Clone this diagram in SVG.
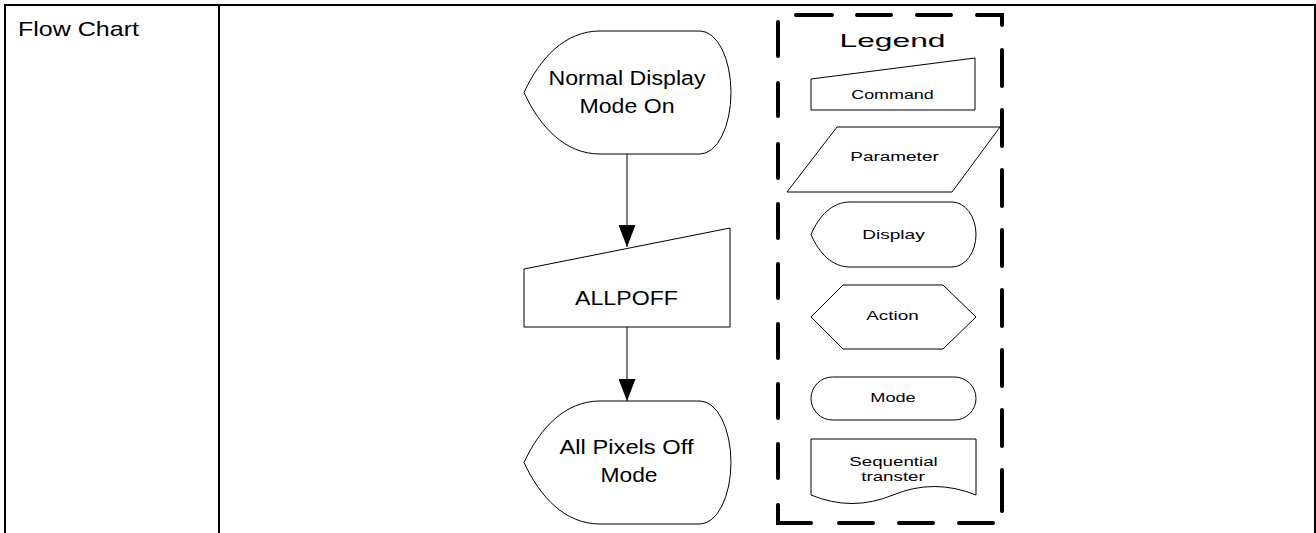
<svg xmlns="http://www.w3.org/2000/svg" width="1316" height="533" viewBox="0 0 1316 533">
<style>
.tbl{stroke:#000;stroke-width:2;fill:none}
.shape{fill:#fff;stroke:#000;stroke-width:1}
.conn{stroke:#000;stroke-width:1;fill:none}
.dash{stroke:#000;stroke-width:4;fill:none;stroke-linecap:round;stroke-linejoin:miter}
text{font-family:"Liberation Sans",Arial,sans-serif;fill:#000}
.main{font-size:20px;text-anchor:middle}
.leg{font-size:12.5px;text-anchor:middle}
</style>
<defs>
<marker id="arrow" markerUnits="userSpaceOnUse" markerWidth="22" markerHeight="17" refX="22" refY="8.5" orient="auto">
<path d="M0,0 L22,8.5 L0,17 Z" fill="#000"/>
</marker>
</defs>
<rect width="1316" height="533" fill="#fff"/>
<g id="table">
<path class="tbl" d="M4,5 H1316 M5,4 V533 M219,4 V533 M1315,4 V533"/>
<text x="18" y="36" font-size="21" textLength="121" lengthAdjust="spacingAndGlyphs">Flow Chart</text>
</g>
<g id="connectors">
<path class="conn" d="M627,154 V247" marker-end="url(#arrow)"/>
<path class="conn" d="M627,327 V401" marker-end="url(#arrow)"/>
</g>
<g id="node-normal-display">
<path class="shape" d="M524,92.5 C540,58 565,31 600,31 L700,31 A31,61.5 0 0 1 700,154 L600,154 C565,154 540,127 524,92.5 Z"/>
<text class="main" x="627" y="85" textLength="157" lengthAdjust="spacingAndGlyphs">Normal Display</text>
<text class="main" x="627" y="113" textLength="95" lengthAdjust="spacingAndGlyphs">Mode On</text>
</g>
<g id="node-allpoff">
<path class="shape" d="M524,269 L730,228 L730,327 L524,327 Z"/>
<text class="main" x="626.5" y="305" textLength="103" lengthAdjust="spacingAndGlyphs">ALLPOFF</text>
</g>
<g id="node-all-pixels-off">
<path class="shape" d="M524,462.5 C540,428 565,401 600,401 L700,401 A31,61.5 0 0 1 700,524 L600,524 C565,524 540,497 524,462.5 Z"/>
<text class="main" x="626.5" y="454" textLength="134" lengthAdjust="spacingAndGlyphs">All Pixels Off</text>
<text class="main" x="629" y="482" textLength="57" lengthAdjust="spacingAndGlyphs">Mode</text>
</g>
<g id="legend">
<path class="dash" d="M778,22 V56 M778,83 V116 M778,144 V178 M778,204 V238 M778,264 V298 M778,324 V358 M778,384 V418 M778,444 V478 M778,505 V523 H811 M839,523 H873 M899,523 H933 M959,523 H993 M1002,50 V86 M1002,110 V146 M1002,170 V206 M1002,230 V266 M1002,290 V326 M1002,350 V386 M1002,410 V446 M1002,470 V511 M796,15 H832 M857,15 H891 M917,15 H951 M977,15 H1002 V25"/>
<text x="892.5" y="47" font-size="19" text-anchor="middle" textLength="106" lengthAdjust="spacingAndGlyphs">Legend</text>
</g>
<g id="legend-command">
<path class="shape" d="M811,79 L975,58 L975,110 L811,110 Z"/>
<text class="leg" x="892.5" y="98.5" textLength="82.5" lengthAdjust="spacingAndGlyphs">Command</text>
</g>
<g id="legend-parameter">
<path class="shape" d="M837,127 L1000,127 L952,192 L787,192 Z"/>
<text class="leg" x="894.5" y="161" textLength="88.5" lengthAdjust="spacingAndGlyphs">Parameter</text>
</g>
<g id="legend-display">
<path class="shape" d="M811,234.5 C819,216 832,202 850,202 L952,202 A24,32.5 0 0 1 952,267 L850,267 C832,267 819,253 811,234.5 Z"/>
<text class="leg" x="893.5" y="239" textLength="62.5" lengthAdjust="spacingAndGlyphs">Display</text>
</g>
<g id="legend-action">
<path class="shape" d="M811,317 L843,285 L943,285 L976,317 L943,349 L843,349 Z"/>
<text class="leg" x="892.5" y="320" textLength="52.5" lengthAdjust="spacingAndGlyphs">Action</text>
</g>
<g id="legend-mode">
<rect class="shape" x="811" y="377" width="165" height="43" rx="21.5" ry="21.5"/>
<text class="leg" x="893" y="402" textLength="45.5" lengthAdjust="spacingAndGlyphs">Mode</text>
</g>
<g id="legend-sequential">
<path class="shape" d="M811,439 L976,439 L976,495 Q934,478 893,495 T811,495 Z"/>
<text class="leg" x="893.5" y="466" textLength="88.5" lengthAdjust="spacingAndGlyphs">Sequential</text>
<text class="leg" x="893" y="481" textLength="63.5" lengthAdjust="spacingAndGlyphs">transter</text>
</g>
</svg>
